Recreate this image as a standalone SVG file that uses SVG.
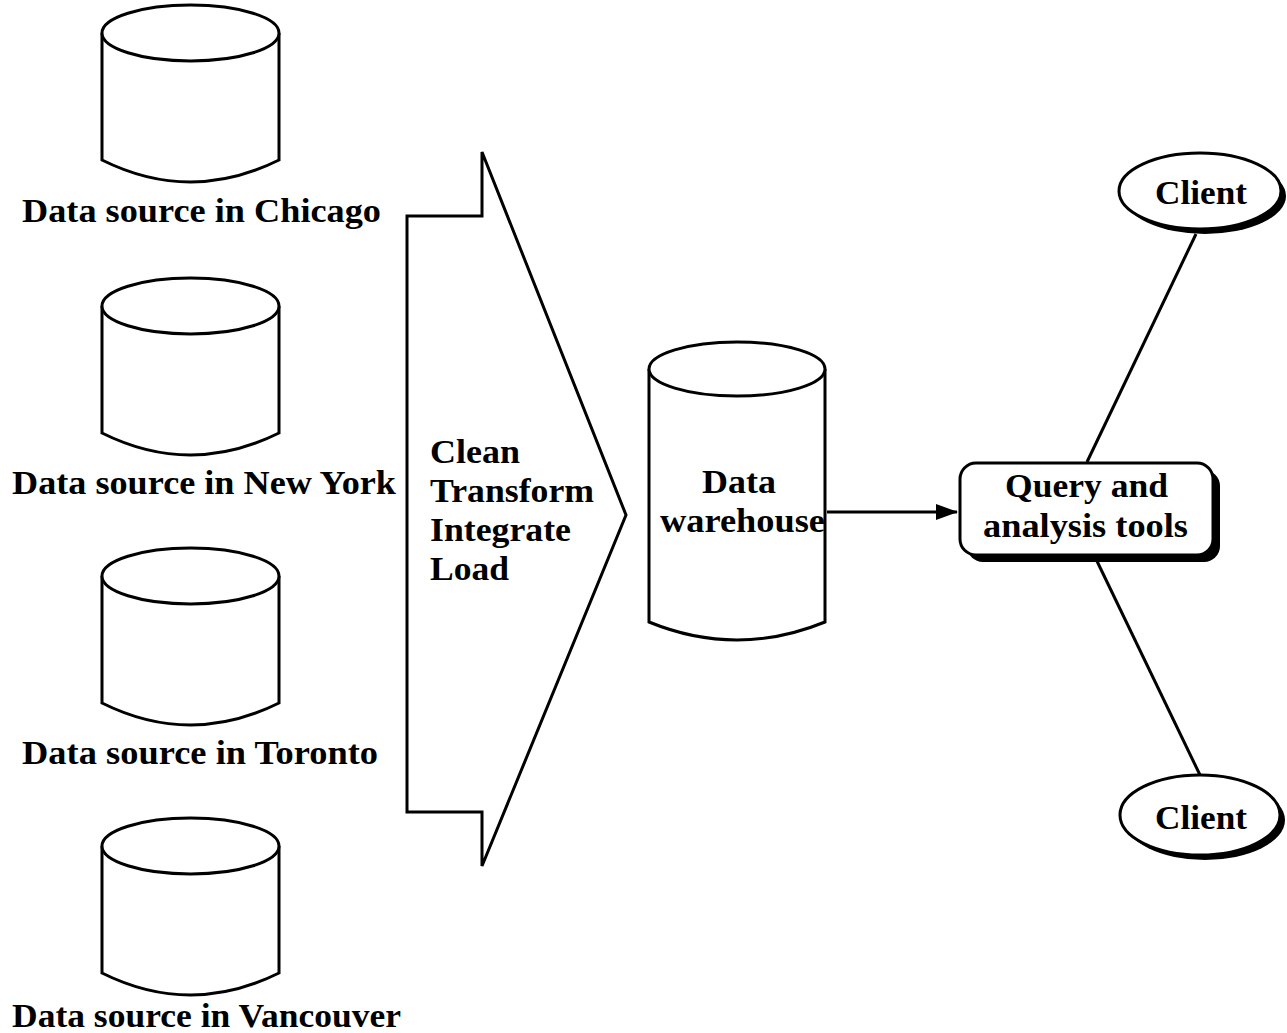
<svg xmlns="http://www.w3.org/2000/svg" width="1287" height="1033" viewBox="0 0 1287 1033">
<style>
.s{fill:#fff;stroke:#000;stroke-width:3;stroke-linejoin:miter}
.l{fill:none;stroke:#000;stroke-width:3}
.t{font-family:"Liberation Serif","Times New Roman",serif;font-weight:bold;font-size:34px;fill:#000}
</style>
<defs>
<marker id="ah" markerWidth="22" markerHeight="16" refX="21" refY="8" orient="auto" markerUnits="userSpaceOnUse">
<path d="M0,0 L22,8 L0,16 Z" fill="#000"/>
</marker>
<g id="cyl">
<path class="s" d="M102,33 L102,160 Q190.5,204 279,160 L279,33"/>
<ellipse class="s" cx="190.5" cy="33" rx="88.5" ry="28"/>
</g>
</defs>
<rect width="1287" height="1033" fill="#fff"/>
<g id="src-chicago">
<use href="#cyl"/>
<text class="t" x="22" y="222" textLength="359" lengthAdjust="spacingAndGlyphs">Data source in Chicago</text>
</g>
<g id="src-newyork">
<use href="#cyl" y="273"/>
<text class="t" x="12" y="494" textLength="384" lengthAdjust="spacingAndGlyphs">Data source in New York</text>
</g>
<g id="src-toronto">
<use href="#cyl" y="543"/>
<text class="t" x="22" y="764" textLength="356" lengthAdjust="spacingAndGlyphs">Data source in Toronto</text>
</g>
<g id="src-vancouver">
<use href="#cyl" y="813"/>
<text class="t" x="12" y="1027" textLength="389" lengthAdjust="spacingAndGlyphs">Data source in Vancouver</text>
</g>
<g id="etl">
<path class="s" d="M407,216 L482,216 L482,152 L626,515 L482,866 L482,812 L407,812 Z"/>
<text class="t" x="430" y="463" textLength="90" lengthAdjust="spacingAndGlyphs">Clean</text>
<text class="t" x="430" y="502" textLength="164" lengthAdjust="spacingAndGlyphs">Transform</text>
<text class="t" x="430" y="541" textLength="141" lengthAdjust="spacingAndGlyphs">Integrate</text>
<text class="t" x="430" y="580" textLength="79" lengthAdjust="spacingAndGlyphs">Load</text>
</g>
<g id="warehouse">
<path class="s" d="M649,369 L649,622 Q737,658 825,622 L825,369"/>
<ellipse class="s" cx="737" cy="369" rx="88" ry="27"/>
<text class="t" x="702" y="493" textLength="74" lengthAdjust="spacingAndGlyphs">Data</text>
<text class="t" x="660" y="532" textLength="165" lengthAdjust="spacingAndGlyphs">warehouse</text>
</g>
<g id="connectors">
<line class="l" x1="827" y1="512" x2="957" y2="512" marker-end="url(#ah)"/>
<line class="l" x1="1196" y1="234" x2="1087" y2="462"/>
<line class="l" x1="1095" y1="557" x2="1200" y2="775"/>
</g>
<g id="query">
<rect x="967" y="470" width="253" height="92" rx="16" fill="#000"/>
<rect class="s" x="960" y="463" width="253" height="92" rx="16"/>
<text class="t" x="1005" y="497" textLength="163" lengthAdjust="spacingAndGlyphs">Query and</text>
<text class="t" x="983" y="537" textLength="205" lengthAdjust="spacingAndGlyphs">analysis tools</text>
</g>
<g id="client-top">
<ellipse cx="1205" cy="196" rx="81" ry="38" fill="#000"/>
<ellipse class="s" cx="1200" cy="191" rx="81" ry="38"/>
<text class="t" x="1155" y="204" textLength="92" lengthAdjust="spacingAndGlyphs">Client</text>
</g>
<g id="client-bottom">
<ellipse cx="1205" cy="820" rx="80" ry="40" fill="#000"/>
<ellipse class="s" cx="1200" cy="815" rx="80" ry="40"/>
<text class="t" x="1155" y="829" textLength="92" lengthAdjust="spacingAndGlyphs">Client</text>
</g>
</svg>
